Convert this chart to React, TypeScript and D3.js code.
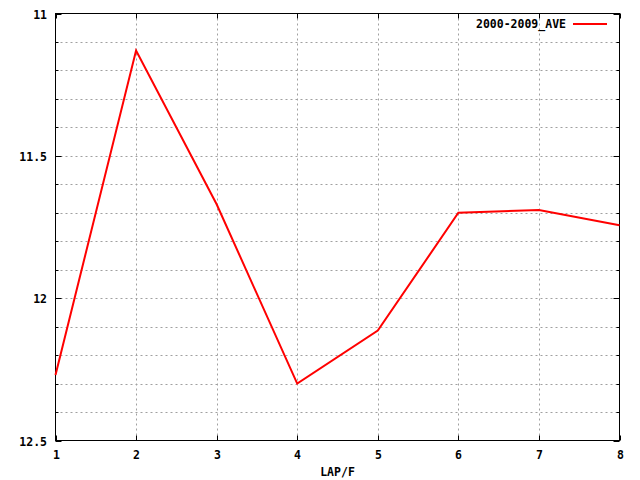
import React from "react";
import * as d3 from "d3";

const laps = [1, 2, 3, 4, 5, 6, 7, 8];
const ave = [12.27, 11.13, 11.67, 12.3, 12.114, 11.7, 11.69, 11.744];
const seriesName = "2000-2009_AVE";
const xTicks = [1, 2, 3, 4, 5, 6, 7, 8];
const yMajor = [11, 11.5, 12, 12.5];
const yMinor = [11.1, 11.2, 11.3, 11.4, 11.6, 11.7, 11.8, 11.9, 12.1, 12.2, 12.3, 12.4];
const xLabel = "LAP/F";

const W = 640, H = 480;
const L = 55.5, R = 619.5, T = 13.5, B = 440.5;
const font = "'DejaVu Sans Mono', monospace";

export default function App() {
  const x = d3.scaleLinear().domain([1, 8]).range([L, R]);
  const y = d3.scaleLinear().domain([11, 12.5]).range([T, B]);
  const line = d3.line<number>().x((_, i) => x(laps[i])).y((d) => y(d));
  const grid = { stroke: "#a0a0a0", strokeWidth: 1, strokeDasharray: "2,3" };
  const yAll = [...yMajor, ...yMinor].filter((v) => v > 11 && v < 12.5);
  return (
    <svg width={W} height={H} style={{ position: "absolute", left: 0, top: 0, background: "#fff" }}>
      <rect x={0} y={0} width={W} height={H} fill="#fff" />
      {yAll.map((v) => (
        <line key={"gy" + v} x1={L} x2={R} y1={Math.round(y(v)) + 0.5} y2={Math.round(y(v)) + 0.5} {...grid} />
      ))}
      {xTicks.filter((v) => v > 1 && v < 8).map((v) => (
        <line key={"gx" + v} x1={Math.round(x(v)) + 0.5} x2={Math.round(x(v)) + 0.5} y1={T} y2={B} {...grid} />
      ))}
      {xTicks.map((v) => {
        const px = Math.round(x(v)) + 0.5;
        return (
          <g key={"xt" + v}>
            <line x1={px} x2={px} y1={B} y2={B - 5} stroke="#000" />
            <line x1={px} x2={px} y1={T} y2={T + 5} stroke="#000" />
            <text x={px} y={459} textAnchor="middle" fontFamily={font} fontWeight="bold" fontSize={11.5} fill="#000">{v}</text>
          </g>
        );
      })}
      {yMajor.map((v) => {
        const py = Math.round(y(v)) + 0.5;
        return (
          <g key={"yt" + v}>
            <line x1={L} x2={L + 6} y1={py} y2={py} stroke="#000" />
            <line x1={R} x2={R - 6} y1={py} y2={py} stroke="#000" />
            <text x={47} y={py + 4} textAnchor="end" fontFamily={font} fontWeight="bold" fontSize={11.5} fill="#000">{v}</text>
          </g>
        );
      })}
      {yMinor.map((v) => {
        const py = Math.round(y(v)) + 0.5;
        return (
          <g key={"ym" + v}>
            <line x1={L} x2={L + 3} y1={py} y2={py} stroke="#000" />
            <line x1={R} x2={R - 3} y1={py} y2={py} stroke="#000" />
          </g>
        );
      })}
      <rect x={L} y={T} width={R - L} height={B - T} fill="none" stroke="#000" strokeWidth={1} />
      <path d={line(ave) || ""} fill="none" stroke="#ff0000" strokeWidth={2} />
      <text x={566} y={28} textAnchor="end" fontFamily={font} fontWeight="bold" fontSize={11.5} fill="#000">{seriesName}</text>
      <line x1={573} x2={607} y1={24} y2={24} stroke="#ff0000" strokeWidth={2} />
      <text x={(L + R) / 2} y={476} textAnchor="middle" fontFamily={font} fontWeight="bold" fontSize={11.5} fill="#000">{xLabel}</text>
    </svg>
  );
}
